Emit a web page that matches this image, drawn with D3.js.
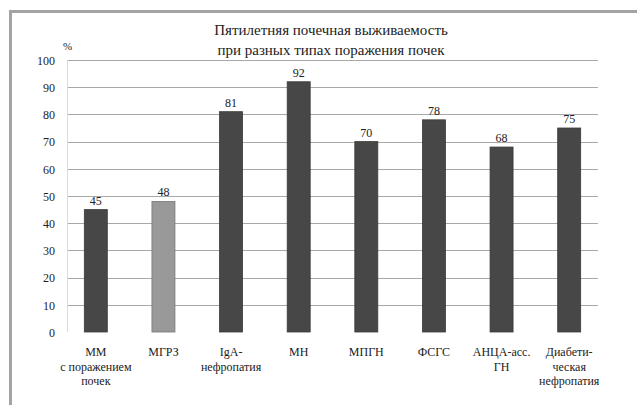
<!DOCTYPE html>
<html><head><meta charset="utf-8">
<script src="https://cdn.jsdelivr.net/npm/d3@7"></script>
<style>html,body{margin:0;padding:0;background:#fff;}svg{display:block;}</style>
</head><body>
<svg id="c" width="637" height="405" font-family="Liberation Serif"></svg>
<script>
const categories = ["ММ|с поражением|почек","МГРЗ","IgA-|нефропатия","МН","МПГН","ФСГС","АНЦА-асс.|ГН","Диабети-|ческая|нефропатия"];
const values = [45,48,81,92,70,78,68,75];
const barColors = ["#474747","#999999","#474747","#474747","#474747","#474747","#474747","#474747"];
const yTicks = [0,10,20,30,40,50,60,70,80,90,100];
const titleLines = ["Пятилетняя почечная выживаемость","при разных типах поражения почек"];

const FONT = "Liberation Serif";
const svg = d3.select("#c");
// frame
svg.append("path").attr("d","M10.5,405 V11.5 H637").attr("fill","none").attr("stroke","#a3a3a3").attr("stroke-width",3);

const gridL = 67, gridR = 598;
const x = d3.scaleBand().domain(d3.range(categories.length)).range([62,603]).paddingInner(0.66).paddingOuter(0.33);
const y = d3.scaleLinear().domain([0,100]).range([332,60]);

// grid
svg.append("g").selectAll("line").data(yTicks.filter(d=>d>0)).join("line")
  .attr("x1",gridL).attr("x2",gridR).attr("y1",d=>Math.round(y(d))+0.5).attr("y2",d=>Math.round(y(d))+0.5)
  .attr("stroke","#a8a8a8").attr("stroke-width",1);
// y axis line
svg.append("line").attr("x1",67.5).attr("x2",67.5).attr("y1",60).attr("y2",332).attr("stroke","#dcdcdc");

const yAxis = d3.axisLeft(y).tickValues(yTicks).tickSize(0).tickPadding(0);
const ga = svg.append("g").attr("transform","translate(55,0)").call(yAxis);
ga.select(".domain").remove();
ga.attr("font-family",FONT).attr("font-size",12);
ga.selectAll("text").attr("font-family",FONT).attr("fill","#222").attr("dy","0.35em");

// bars
svg.append("g").selectAll("rect").data(values).join("rect")
  .attr("x",(d,i)=>x(i)).attr("width",x.bandwidth())
  .attr("y",d=>y(d)).attr("height",d=>y(0)-y(d))
  .attr("fill",(d,i)=>barColors[i]).attr("stroke",(d,i)=>i===1?"#777":"#3a3a3a").attr("stroke-width",0.8);

svg.append("g").attr("font-family",FONT).selectAll("text").data(values).join("text")
  .attr("x",(d,i)=>x(i)+x.bandwidth()/2).attr("y",d=>y(d)-5)
  .attr("text-anchor","middle").attr("font-family",FONT).attr("font-size",12).attr("fill","#222").text(d=>d);

// x labels
const xl = svg.append("g").attr("font-family",FONT).selectAll("text").data(categories).join("text")
  .attr("text-anchor","middle").attr("font-family",FONT).attr("font-size",12).attr("fill","#222")
  .attr("transform",(d,i)=>`translate(${x(i)+x.bandwidth()/2},356)`);
xl.selectAll("tspan").data(d=>d.split("|")).join("tspan").attr("x",0).attr("y",(d,j)=>j*14.5).text(d=>d);

// title
svg.append("g").attr("font-family",FONT).selectAll("text").data(titleLines).join("text")
  .attr("x",331).attr("y",(d,i)=>35+i*20).attr("text-anchor","middle")
  .attr("font-family",FONT).attr("font-size",15).attr("fill","#222").text(d=>d);

svg.append("text").attr("x",63).attr("y",50).attr("font-family",FONT).attr("font-size",11).attr("fill","#222").text("%");
</script>
</body></html>
